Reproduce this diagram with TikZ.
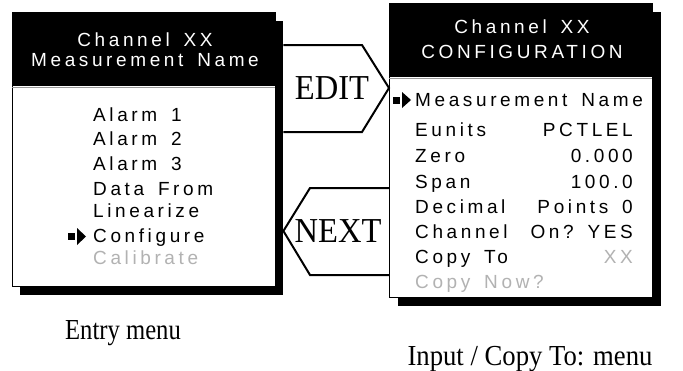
\documentclass[tikz,border=0pt]{standalone}
\usepackage{fontspec}
\setmainfont{Liberation Serif}
\newfontfamily\lcdfont[LetterSpace=19]{Liberation Sans}
\newcommand\wsp{\ \kern5pt}
\begin{document}
\begin{tikzpicture}[x=1pt,y=-1pt,
  lcd/.style={font=\lcdfont\fontsize{19}{19}\selectfont, inner sep=0pt},
  item/.style={lcd, anchor=base west},
  valr/.style={lcd, anchor=base east},
  hdr/.style={lcd, anchor=base, text=white},
  dim/.style={text=black!30},
  panel/.style={draw=black, fill=white, line width=1pt, anchor=north west, inner sep=0pt},
  shadowbox/.style={fill=black, draw=none, anchor=north west, inner sep=0pt},
  tag/.style={font=\fontsize{35}{35}\selectfont, inner sep=0pt, xscale=0.93},
  caption/.style={font=\fontsize{29}{29}\selectfont, inner sep=0pt, anchor=base},
  flow/.style={draw=black, line width=2pt}]
\useasboundingbox (0,0) rectangle (683,370);

% ---------- Entry menu box ----------
\node[shadowbox, minimum width=263, minimum height=274] (entryshadow) at (20,21) {};
\node[panel, minimum width=263, minimum height=274] (entry) at (12,12) {};
\fill[black] (entry.north west) rectangle (275,86);
\draw[black!40, line width=1pt] (12,87) -- (275,87);
\node[hdr] (e1) at (145,46) {Channel\wsp XX};
\node[hdr] (e2) at (145,66) {Measurement\wsp Name};
\node[item] (a1) at (93,121) {Alarm\wsp 1};
\node[item] (a2) at (93,145) {Alarm\wsp 2};
\node[item] (a3) at (93,170) {Alarm\wsp 3};
\node[item] (a4) at (93,195) {Data\wsp From};
\node[item] (a5) at (93,217) {Linearize};
\node[item] (a6) at (93,242) {Configure};
\node[item, dim] (a7) at (93,264) {Calibrate};
\fill[black] (68,233) rectangle (75,240);
\fill[black] (77,228) -- (86,236.5) -- (77,245) -- cycle;

% ---------- Configuration box ----------
\node[shadowbox, minimum width=263, minimum height=294] (cfgshadow) at (398,12) {};
\node[panel, minimum width=263, minimum height=294] (cfg) at (389,3) {};
\fill[black] (cfg.north west) rectangle (652,77);
\draw[black!40, line width=1pt] (389,78) -- (652,78);
\node[hdr] (c1) at (522,33) {Channel\wsp XX};
\node[hdr] (c2) at (522,58) {CONFIGURATION};
\node[item] (b1) at (415,106) {Measurement\wsp Name};
\node[item] (b2) at (415,136) {Eunits};
\node[valr] (v2) at (633,136) {PCTLEL};
\node[item] (b3) at (415,162) {Zero};
\node[valr] (v3) at (633,162) {0.000};
\node[item] (b4) at (415,188) {Span};
\node[valr] (v4) at (633,188) {100.0};
\node[item] (b5) at (415,213) {Decimal};
\node[valr] (v5) at (633,213) {Points\wsp 0};
\node[item] (b6) at (415,238) {Channel};
\node[valr] (v6) at (633,238) {On?\wsp YES};
\node[item] (b7) at (415,263) {Copy\wsp To};
\node[valr, dim] (v7) at (633,263) {XX};
\node[item, dim] (b8) at (415,288) {Copy\wsp Now?};
\fill[black] (393,96.5) rectangle (400,103.5);
\fill[black] (402,92) -- (411,100) -- (402,108) -- cycle;

% ---------- EDIT / NEXT arrows ----------
\coordinate (edA) at (entryshadow.north east |- 0,45);
\coordinate (edB) at (entryshadow.north east |- 0,132);
\draw[flow] (edA) -- (362,45) -- (cfg.west |- 0,88) -- (362,132) -- (edB);
\node[tag] (edit) at (332,88) {EDIT};
\coordinate (nxA) at (cfg.west |- 0,188);
\coordinate (nxB) at (cfg.west |- 0,275);
\draw[flow] (nxA) -- (310,188) -- (entryshadow.east |- 0,231) -- (310,275) -- (nxB);
\node[tag] (next) at (338,231) {NEXT};

% ---------- captions ----------
\node[caption, xscale=0.85] (cap1) at (123,339) {Entry menu};
\node[caption, xscale=0.92] (cap2) at (530,365) {Input / Copy To: menu};
\end{tikzpicture}
\end{document}
